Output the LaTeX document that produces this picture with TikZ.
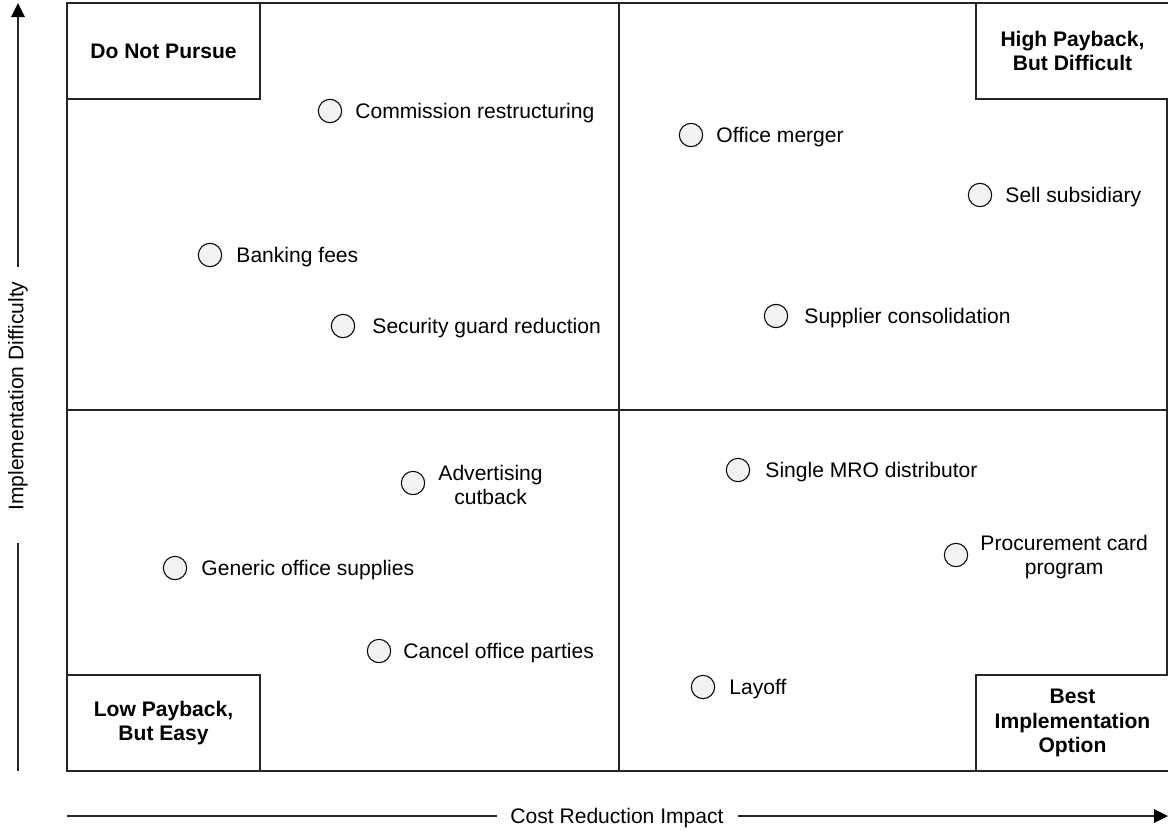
\documentclass[tikz,border=0pt]{standalone}
\usepackage{fontspec}
\setmainfont{Liberation Sans}
\usetikzlibrary{calc}
\definecolor{linec}{HTML}{262626}
\definecolor{dotfill}{HTML}{F2F2F2}
\begin{document}
\begin{tikzpicture}[x=0.75pt,y=-0.75pt,
  every node/.style={font=\fontsize{15.8}{18.6}\selectfont, text=black},
  frame/.style={draw=linec, line width=1.15pt},
  cornerbox/.style={draw=linec, line width=1.15pt, fill=white, minimum width=144.5pt, minimum height=72pt, inner sep=0pt, align=center, font=\fontsize{15.8}{18.6}\selectfont\bfseries},
  item/.style={circle, draw=black, line width=0.8pt, fill=dotfill, minimum size=17.5pt, inner sep=0pt},
  lbl/.style={anchor=west, inner sep=0pt, align=center, yshift=-1.5pt},
  axis/.style={draw=linec, line width=1.15pt},
  axislbl/.style={inner sep=0pt},
  headfill/.style={fill=black}
]
\useasboundingbox (0,0) rectangle (1168,832);
% frame and quadrant lines
\draw[frame] (67,3) rectangle (1167,771);
\coordinate (mt) at (619,3);
\coordinate (mb) at (619,771);
\coordinate (ml) at (67,410);
\coordinate (mr) at (1167,410);
\draw[frame] (mt) -- (mb);
\draw[frame] (ml) -- (mr);
% corner boxes
\node[cornerbox] (dnp) at (163.5,51) {Do Not Pursue};
\node[cornerbox] (hpd) at (1072.5,51) {High Payback,\\But Difficult};
\node[cornerbox] (lpe) at (163.5,723) {Low Payback,\\But Easy};
\node[cornerbox] (bio) at (1072.5,723) {Best\\Implementation\\Option};
% items
\node[item] (c1) at (330,111) {};
\node[lbl] (t1) at ($(c1.east)+(13,0)$) {Commission restructuring};
\node[item] (c2) at (691,135) {};
\node[lbl] (t2) at ($(c2.east)+(13,0)$) {Office merger};
\node[item] (c3) at (980,195) {};
\node[lbl] (t3) at ($(c3.east)+(13,0)$) {Sell subsidiary};
\node[item] (c4) at (210,255) {};
\node[lbl] (t4) at ($(c4.east)+(14,0)$) {Banking fees};
\node[item] (c5) at (343,326) {};
\node[lbl] (t5) at ($(c5.east)+(17,0)$) {Security guard reduction};
\node[item] (c6) at (776,316) {};
\node[lbl] (t6) at ($(c6.east)+(16,0)$) {Supplier consolidation};
\node[item] (c7) at (413,483) {};
\node[lbl] (t7) at ($(c7.east)+(13,0)$) {Advertising\\cutback};
\node[item] (c8) at (738,470) {};
\node[lbl] (t8) at ($(c8.east)+(15,0)$) {Single MRO distributor};
\node[item] (c9) at (956,555) {};
\node[lbl] (t9) at ($(c9.east)+(12,0)$) {Procurement card\\program};
\node[item] (c10) at (175,568) {};
\node[lbl] (t10) at ($(c10.east)+(14,0)$) {Generic office supplies};
\node[item] (c11) at (379,651) {};
\node[lbl] (t11) at ($(c11.east)+(12,0)$) {Cancel office parties};
\node[item] (c12) at (703,687) {};
\node[lbl] (t12) at ($(c12.east)+(14,0)$) {Layoff};
% y axis
\coordinate (ybot) at (18,771);
\coordinate (ytop) at (18,3);
\node[axislbl, rotate=90] (ylab) at (18,396) {Implementation Difficulty};
\coordinate (yg1) at (18,543);
\coordinate (yg2) at (18,267);
\draw[axis] (ybot) -- (yg1);
\draw[axis] (yg2) -- (18,15);
\fill[headfill] (ytop) -- (11,17) -- (25,17) -- cycle;
% x axis
\coordinate (xl) at (67,816);
\coordinate (xr) at (1168,816);
\node[axislbl] (xlab) at (617,818) {Cost Reduction Impact};
\coordinate (xg1) at (497,816);
\coordinate (xg2) at (738,816);
\draw[axis] (xl) -- (xg1);
\draw[axis] (xg2) -- (1156,816);
\fill[headfill] (xr) -- (1154,809) -- (1154,823) -- cycle;
\end{tikzpicture}
\end{document}
